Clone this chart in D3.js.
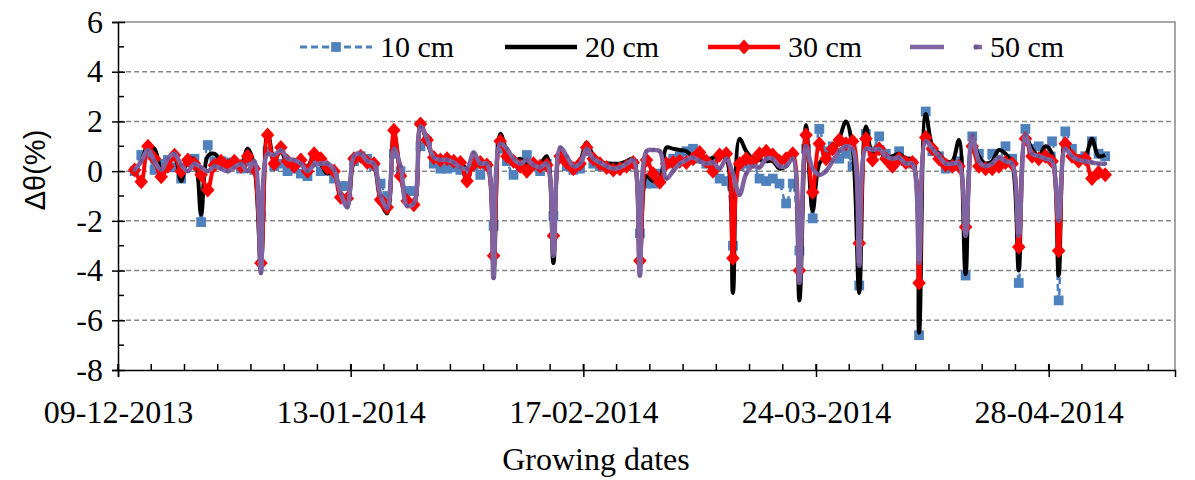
<!DOCTYPE html>
<html>
<head>
<meta charset="utf-8">
<script src="https://cdn.jsdelivr.net/npm/d3@7"></script>
<style>
  body { margin: 0; background: #ffffff; }
  svg { display: block; }
</style>
</head>
<body>
<svg id="chart" width="1195" height="480"></svg>
<script>
// Daily change in soil water content (Δθ, %) at four depths.
// One reading per day, starting at noon on 11 Dec 2013.
const firstReading = new Date(2013, 11, 11, 12);
const depthLabels = ["10 cm", "20 cm", "30 cm", "50 cm"];

const d10 = [
  0, 0.65, 0.7, 0.05, 0.3, 0.45, 0.15, -0.3, 0.35, 0.5, -2.05, 1.05, 0.4,
  0.4, 0.35, 0.3, 0.1, 0.4, 0.05, -1.8, 0.8, 0.2, 0.3, 0.0, 0.1, -0.1, -0.2, 0.5,
  0.0, 0.1, -0.3, -0.6, -0.6, 0.4, 0.6, 0.5, 0.2, -0.5, -1.0, 0.7, 0.0, -0.8, -0.8, 1.0,
  1.2, 0.3, 0.1, 0.1, 0.15, 0.05, 0.0, 0.2, -0.15, 0.2, -2.2, 0.9,
  0.4, -0.15, 0.3, 0.65, 0.2, 0.0, 0.3, -1.8, 0.5, 0.2, 0.05, 0.1, 0.8, 0.3, 0.2,
  0.2, 0.1, 0.15, 0.2, 0.3, -2.5, -0.5, -0.5, -0.1, 0.3, 0.5, 0.6, 0.8, 0.9,
  0.5, 0.3, 0.4, -0.3, -0.4, -3.0, 0.2, 0.3, 0.4, -0.3, -0.4, -0.3, -0.5, -1.3,
  -0.5, -3.2, 0.9, -1.9, 1.7, 0.8, 1.0, 0.5, 0.7, 0.2, -4.6, 1.5, 0.8, 1.4,
  0.7, 0.3, 0.8, 0.4, 0.3, -6.6, 2.4, 0.8, 0.6, 0.1, 0.2, 0.4, -4.2, 1.4,
  0.7, 0.2, 0.7, 0.4, 1.0, 0.5, -4.5, 1.7, 0.9, 1.0, 0.6, 1.2, -5.2, 1.6,
  0.9, 0.5, 0.6, 1.2, 0.7, 0.6
];

const d20 = [
  0.05, 0.4, 1.0, 0.9, 0.1, 0.4, 0.6, -0.4, 0.5, 0.45, -1.75, 0.6, 0.7,
  0.45, 0.35, 0.5, 0.2, 0.9, 0.2, -3.8, 1.6, 0.5, 0.8, 0.3, 0.4, 0.3, 0.2, 0.6,
  0.3, -0.1, 0.0, -1.0, -1.4, 0.4, 0.6, 0.4, 0.2, -1.2, -1.7, 1.5, -0.1, -1.2, -1.3, 1.8,
  1.2, 0.5, 0.4, 0.4, 0.3, 0.35, 0.1, 0.6, 0.3, 0.3, -4.0, 1.5,
  0.8, 0.4, 0.5, 0.3, 0.35, 0.3, 0.6, -3.7, 0.7, 0.4, 0.15, 0.4, 1.15, 0.6, 0.35,
  0.3, 0.3, 0.3, 0.4, 0.5, -3.9, -0.2, -0.4, -0.35, 0.95, 0.9, 0.85, 0.8, 0.6,
  0.7, 0.3, 0.55, 0.6, 0.5, -4.9, 1.3, 0.8, 0.5, 0.45, 0.4, 0.4, 0.1, 0.2,
  0.6, -5.2, 1.85, -1.6, 0.3, 0.6, 0.8, 1.3, 2.0, 0.9, -4.9, 1.8, 0.7, 0.8,
  0.55, 0.6, 0.7, 0.5, 0.45, -6.5, 2.3, 1.0, 0.7, 0.4, 0.4, 1.25, -4.15, 1.2,
  0.6, 0.3, 0.4, 0.85, 0.7, 0.3, -4.0, 1.35, 0.9, 0.6, 1.0, 0.7, -4.2, 1.2,
  0.65, 0.55, 0.6, 1.3, 0.6, 0.65
];

const d30 = [
  0.05, -0.43, 1.0, 0.5, -0.23, 0.2, 0.64, 0.0, 0.45, 0.3, -0.15, -0.76, 0.24,
  0.4, 0.2, 0.4, 0.2, 0.6, 0.1, -3.7, 1.45, 0.3, 0.95, 0.4, 0.2, 0.45, 0.0, 0.7,
  0.5, 0.15, 0.0, -1.05, -1.1, 0.5, 0.6, 0.35, 0.3, -1.15, -1.45, 1.65, -0.2, -1.2, -1.35, 1.9,
  1.25, 0.55, 0.45, 0.5, 0.4, 0.35, -0.4, 0.3, 0.35, 0.25, -3.4, 1.2,
  0.6, 0.4, 0.2, 0.0, 0.3, 0.2, 0.25, -2.6, 0.6, 0.35, 0.1, 0.3, 0.95, 0.5, 0.3,
  0.15, 0.05, 0.1, 0.2, 0.35, -3.6, 0.45, -0.1, -0.45, 0.3, 0.35, 0.4, 0.35, 0.5,
  0.75, 0.4, 0.0, 0.65, 0.7, -3.5, 0.3, 0.5, 0.4, 0.7, 0.8, 0.65, 0.4, 0.5,
  0.7, -4.0, 1.45, -0.85, 1.1, 0.5, 0.9, 1.25, 1.1, 1.2, -2.9, 1.3, 0.45, 0.9,
  0.5, 0.2, 0.5, 0.35, 0.35, -4.5, 1.35, 0.9, 0.5, 0.25, 0.2, 0.2, -2.25, 1.0,
  0.2, 0.1, 0.1, 0.2, 0.35, 0.3, -3.05, 1.3, 0.6, 0.5, 0.6, 0.4, -3.2, 1.1,
  0.6, 0.4, 0.5, -0.3, -0.05, -0.15
];

const d50 = [
  0.05, 0.4, 0.85, 0.4, 0.05, 0.5, 0.7, 0.25, 0.0, 0.3, 0.15, 0.0, 0.2,
  0.1, 0.0, 0.15, 0.3, 0.0, 0.4, -4.1, 0.7, 0.65, 0.85, 0.5, 0.45, 0.3, 0.0, 0.25,
  0.3, 0.3, 0.05, -0.9, -1.45, 0.6, 0.7, 0.4, 0.3, -1.0, -1.5, 0.9, 0.2, -1.4, -1.3, 1.8,
  1.3, 0.55, 0.45, 0.45, 0.35, 0.15, 0.1, 0.75, 0.3, 0.3, -4.3, 1.1,
  0.9, 0.5, 0.3, 0.45, 0.25, 0.15, 0.3, -3.4, 0.95, 0.6, 0.2, 0.3, 0.9, 0.5, 0.35,
  0.2, 0.1, 0.15, 0.3, 0.45, -4.2, 0.8, 0.85, 0.8, -0.3, 0.0, 0.3, 0.45, 0.55,
  0.4, 0.3, 0.35, 0.1, 0.5, -0.1, -0.95, -0.1, 0.2, 0.15, 0.5, 0.5, 0.2, 0.2,
  0.5, -4.5, 1.0, 0.1, -0.15, 0.0, 0.4, 0.8, 1.0, 0.9, -3.8, 0.9, 0.85, 0.9,
  0.6, 0.5, 0.55, 0.3, 0.3, -3.7, 1.2, 0.9, 0.6, 0.3, 0.3, 0.3, -2.6, 1.45,
  0.4, 0.2, 0.3, 0.55, 0.4, 0.3, -2.6, 1.45, 0.7, 0.6, 0.5, 0.4, -2.0, 0.9,
  0.6, 0.45, 0.4, 0.35, 0.3, 0.3
];

const xTickLabels = ["09-12-2013", "13-01-2014", "17-02-2014", "24-03-2014", "28-04-2014"];
const yTickValues = [6, 4, 2, 0, -2, -4, -6, -8];
const gridValues = [4, 2, 0, -2, -4, -6];

// ---- layout ----
const svg = d3.select("#chart");
const plot = { left: 118, right: 1175, top: 22, bottom: 370 };
const serif = "'Liberation Serif', 'Times New Roman', serif";
const sans = "'Liberation Sans', Arial, sans-serif";

const parseDay = d3.timeParse("%d-%m-%Y");
const axisStart = parseDay(xTickLabels[0]);
const axisEnd = d3.timeDay.offset(axisStart, 159);

const x = d3.scaleTime().domain([axisStart, axisEnd]).range([plot.left, plot.right]);
const y = d3.scaleLinear().domain([-8, 6]).range([plot.bottom, plot.top]);

const days = d3.range(d10.length).map(i => d3.timeDay.offset(firstReading, i));

// ---- gridlines and frame ----
svg.append("g")
  .selectAll("line")
  .data(gridValues)
  .join("line")
  .attr("x1", plot.left).attr("x2", plot.right)
  .attr("y1", d => y(d)).attr("y2", d => y(d))
  .attr("stroke", "#8a8a8a")
  .attr("stroke-width", 1.5)
  .attr("stroke-dasharray", "5,3");

svg.append("path")
  .attr("d", `M${plot.left},${y(6)}H${plot.right}V${plot.bottom}`)
  .attr("fill", "none")
  .attr("stroke", "#8a8a8a")
  .attr("stroke-width", 1.5);

// ---- axes ----
const yAxis = svg.append("g")
  .attr("transform", `translate(${plot.left},0)`)
  .call(d3.axisLeft(y).tickValues(yTickValues).tickSize(6).tickPadding(9).tickFormat(d => String(d)));
yAxis.selectAll(".tick line").attr("x1", -6).attr("x2", 7).attr("stroke-width", 1.5);
yAxis.select(".domain").attr("stroke-width", 1.5);
yAxis.selectAll("text").attr("font-family", serif).attr("font-size", 32).attr("fill", "#000");

svg.append("g")
  .selectAll("line")
  .data(d3.range(-7, 6, 2))
  .join("line")
  .attr("x1", plot.left).attr("x2", plot.left + 6)
  .attr("y1", d => y(d)).attr("y2", d => y(d))
  .attr("stroke", "#000").attr("stroke-width", 1.5);

const xTickDates = xTickLabels.map(parseDay);
const xAxis = svg.append("g")
  .attr("transform", `translate(0,${plot.bottom})`)
  .call(d3.axisBottom(x).tickValues(xTickDates).tickSize(7).tickPadding(23).tickFormat(d3.timeFormat("%d-%m-%Y")));
xAxis.selectAll(".tick line").attr("y1", -6).attr("y2", 7).attr("stroke-width", 1.5);
xAxis.select(".domain").attr("stroke-width", 1.5);
xAxis.selectAll("text").attr("font-family", serif).attr("font-size", 32).attr("fill", "#000");

svg.append("g")
  .selectAll("line")
  .data(d3.timeDay.range(axisStart, axisEnd, 1).filter((d, i) => i % 5 === 0))
  .join("line")
  .attr("x1", d => x(d)).attr("x2", d => x(d))
  .attr("y1", plot.bottom - 6).attr("y2", plot.bottom)
  .attr("stroke", "#000").attr("stroke-width", 1.5);

// ---- axis titles ----
svg.append("text")
  .attr("x", 596).attr("y", 470)
  .attr("text-anchor", "middle")
  .attr("font-family", serif).attr("font-size", 32)
  .text("Growing dates");

svg.append("text")
  .attr("transform", "translate(45,170) rotate(-90)")
  .attr("text-anchor", "middle")
  .attr("font-family", sans).attr("font-size", 29)
  .text("Δθ(%)");

// ---- series ----
const series = [
  { name: depthLabels[0], values: d10, color: "#4F81BD", width: 2.5, dash: "7,4", marker: "square" },
  { name: depthLabels[1], values: d20, color: "#000000", width: 4, dash: null, marker: null },
  { name: depthLabels[2], values: d30, color: "#FF0000", width: 4, dash: null, marker: "diamond" },
  { name: depthLabels[3], values: d50, color: "#8064A2", width: 4.5, dash: null, marker: "dot" }
];

const line = d3.line()
  .x((d, i) => x(days[i]))
  .y(d => y(d))
  .curve(d3.curveCatmullRom.alpha(0.5));

// Excel-style diamond: a touch taller than wide
const excelDiamond = {
  draw(ctx, size) {
    const h = Math.sqrt(size) * 0.75, w = h * 0.9;
    ctx.moveTo(0, -h); ctx.lineTo(w, 0); ctx.lineTo(0, h); ctx.lineTo(-w, 0); ctx.closePath();
  }
};

const symbolFor = {
  square: d3.symbol().type(d3.symbolSquare).size(95),
  diamond: d3.symbol().type(excelDiamond).size(100),
  dot: d3.symbol().type(d3.symbolCircle).size(14)
};

const seriesG = svg.append("g");
series.forEach(s => {
  const g = seriesG.append("g");
  g.append("path")
    .attr("d", line(s.values))
    .attr("fill", "none")
    .attr("stroke", s.color)
    .attr("stroke-width", s.width)
    .attr("stroke-linejoin", "round")
    .attr("stroke-dasharray", s.dash);
  if (s.marker) {
    g.selectAll("path.m")
      .data(s.values)
      .join("path")
      .attr("class", "m")
      .attr("d", symbolFor[s.marker]())
      .attr("transform", (d, i) => `translate(${x(days[i])},${y(d)})`)
      .attr("fill", s.marker === "dot" ? "#6e5590" : s.color);
  }
});

// ---- legend ----
const legendItems = [
  { s: series[0], x0: 300 },
  { s: series[1], x0: 505 },
  { s: series[2], x0: 708 },
  { s: series[3], x0: 910 }
];
const legend = svg.append("g");
legendItems.forEach(({ s, x0 }) => {
  const g = legend.append("g").attr("transform", `translate(${x0},47)`);
  g.append("line")
    .attr("x1", 0).attr("x2", 72)
    .attr("stroke", s.color)
    .attr("stroke-width", s.marker === "dot" ? 4.5 : s.width + 0.5)
    .attr("stroke-dasharray", s.marker === "dot" ? "34,30" : s.dash);
  if (s.marker) {
    g.append("path")
      .attr("d", (s.marker === "dot" ? d3.symbol().type(d3.symbolCircle).size(20) : symbolFor[s.marker])())
      .attr("transform", `translate(${s.marker === "dot" ? 66 : 36},0)`)
      .attr("fill", s.marker === "dot" ? "#6e5590" : s.color);
  }
  g.append("text")
    .attr("x", 80).attr("y", 10)
    .attr("font-family", serif).attr("font-size", 30)
    .text(s.name);
});
</script>
</body>
</html>
